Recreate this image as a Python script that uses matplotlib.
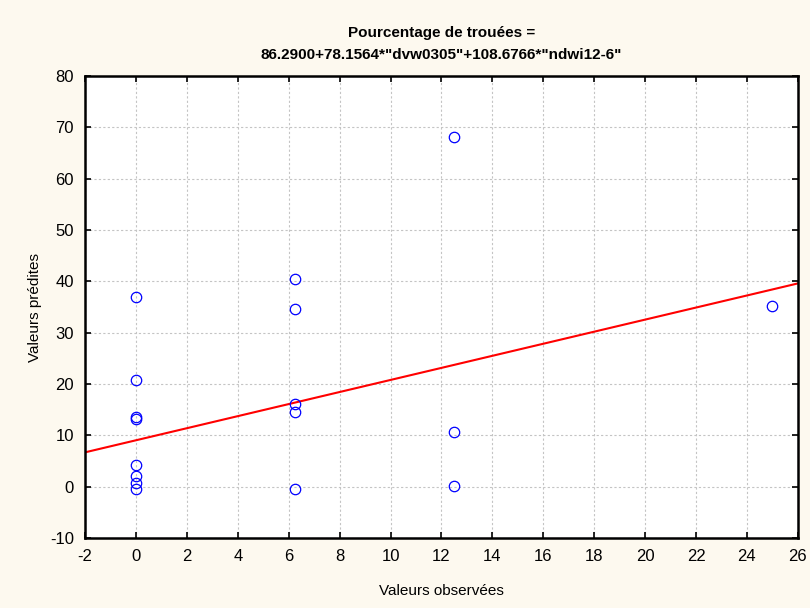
import matplotlib.pyplot as plt
import numpy as np

plt.rcParams['font.family'] = ['Liberation Sans', 'DejaVu Sans']
plt.rcParams['axes.unicode_minus'] = False

# observed vs predicted values
observed = [0, 0, 0, 0, 0, 0, 0, 0,
            6.25, 6.25, 6.25, 6.25, 6.25,
            12.5, 12.5, 12.5,
            25]
predicted = [36.9, 20.8, 13.6, 13.2, 4.2, 2.1, 0.7, -0.5,
             40.5, 34.7, 16.2, 14.5, -0.5,
             68.1, 10.7, 0.1,
             35.25]

# regression line shown on the chart
fit_intercept = 9.05
fit_slope = 1.175

title = 'Pourcentage de trouées =\n86.2900+78.1564*"dvw0305"+108.6766*"ndwi12-6"'

fig = plt.figure(figsize=(8.1, 6.08), dpi=100, facecolor='#fdf9ef')
ax = fig.add_axes([0.105, 0.115, 0.880, 0.760])
ax.set_facecolor('white')

xs = np.array([-2, 26])
ax.plot(xs, fit_intercept + fit_slope * xs, color='red', lw=1.5, zorder=2)
ax.plot(observed, predicted, 'o', mfc='none', mec='blue', ms=7.5, mew=0.9, zorder=3)

ax.set_xlim(-2, 26)
ax.set_ylim(-10, 80)
ax.set_xticks(np.arange(-2, 27, 2))
ax.set_yticks(np.arange(-10, 81, 10))
ax.grid(True, color='#c4c4c4', ls=(0, (2, 2)), lw=0.8)
ax.tick_params(direction='in', top=True, right=True, length=4, width=1.2, labelsize=12, pad=8)
for s in ax.spines.values():
    s.set_linewidth(1.8)

ax.set_xlabel('Valeurs observées', fontsize=11, labelpad=14)
ax.set_ylabel('Valeurs prédites', fontsize=11, labelpad=6)
ax.set_title(title, fontsize=11, fontweight='bold', linespacing=1.8, pad=12)

fig.savefig('out.png', dpi=100, facecolor=fig.get_facecolor())
